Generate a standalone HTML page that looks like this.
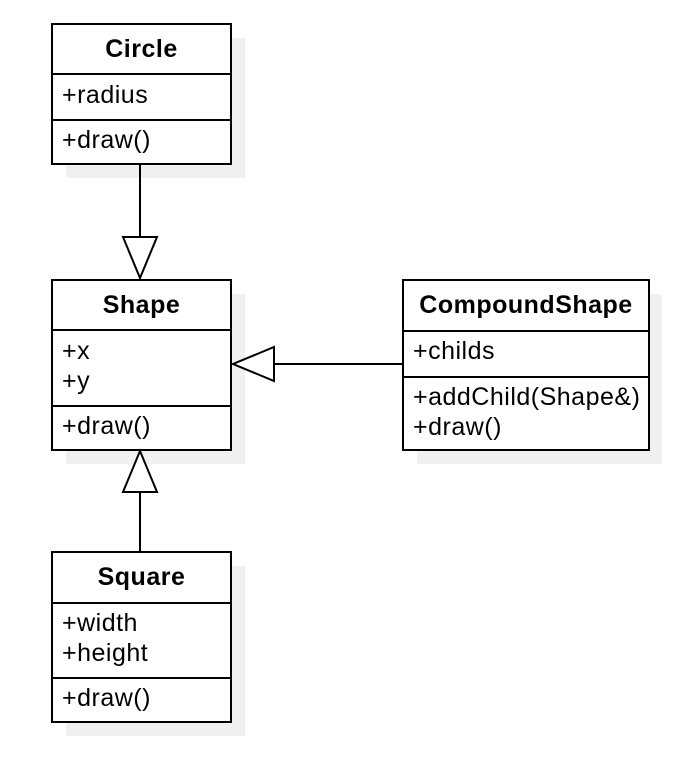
<!DOCTYPE html>
<html><head><meta charset="utf-8"><style>html,body{margin:0;padding:0;background:#fff}svg{display:block}</style></head>
<body>
<svg width="688" height="770" viewBox="0 0 688 770" xmlns="http://www.w3.org/2000/svg" font-family="Liberation Sans, Arial, sans-serif" font-size="25" letter-spacing="0.5">
<g fill="#f0f0f0">
<rect x="66" y="38" width="179" height="140"/>
<rect x="66" y="294" width="179" height="170"/>
<rect x="66" y="566" width="179" height="170"/>
<rect x="417" y="294" width="245" height="170"/>
</g>
<g fill="#fff" stroke="#000" stroke-width="2">
<rect x="52" y="24" width="179" height="140"/>
<line x1="52" y1="74" x2="231" y2="74"/><line x1="52" y1="120" x2="231" y2="120"/>
<rect x="52" y="280" width="179" height="170"/>
<line x1="52" y1="330" x2="231" y2="330"/><line x1="52" y1="406" x2="231" y2="406"/>
<rect x="52" y="552" width="179" height="170"/>
<line x1="52" y1="603" x2="231" y2="603"/><line x1="52" y1="678" x2="231" y2="678"/>
<rect x="403" y="280" width="246" height="170"/>
<line x1="403" y1="331" x2="649" y2="331"/><line x1="403" y1="377" x2="649" y2="377"/>
<line x1="140" y1="164" x2="140" y2="237"/>
<polygon points="123,237 157,237 140,278"/>
<line x1="140" y1="492" x2="140" y2="552"/>
<polygon points="123,492 157,492 140,451"/>
<line x1="274" y1="364" x2="403" y2="364"/>
<polygon points="274,347 274,381 233,364"/>
</g>
<g fill="#000">
<text x="141.5" y="57" font-weight="bold" text-anchor="middle">Circle</text>
<text x="62" y="103">+radius</text>
<text x="62" y="148">+draw()</text>
<text x="141.5" y="313" font-weight="bold" text-anchor="middle">Shape</text>
<text x="62" y="359">+x</text>
<text x="62" y="389">+y</text>
<text x="62" y="434">+draw()</text>
<text x="141.5" y="585" font-weight="bold" text-anchor="middle">Square</text>
<text x="62" y="631">+width</text>
<text x="62" y="661">+height</text>
<text x="62" y="706">+draw()</text>
<text x="526" y="313" font-weight="bold" text-anchor="middle">CompoundShape</text>
<text x="413" y="359">+childs</text>
<text x="413" y="405">+addChild(Shape&amp;)</text>
<text x="413" y="435">+draw()</text>
</g>
</svg>
</body></html>
